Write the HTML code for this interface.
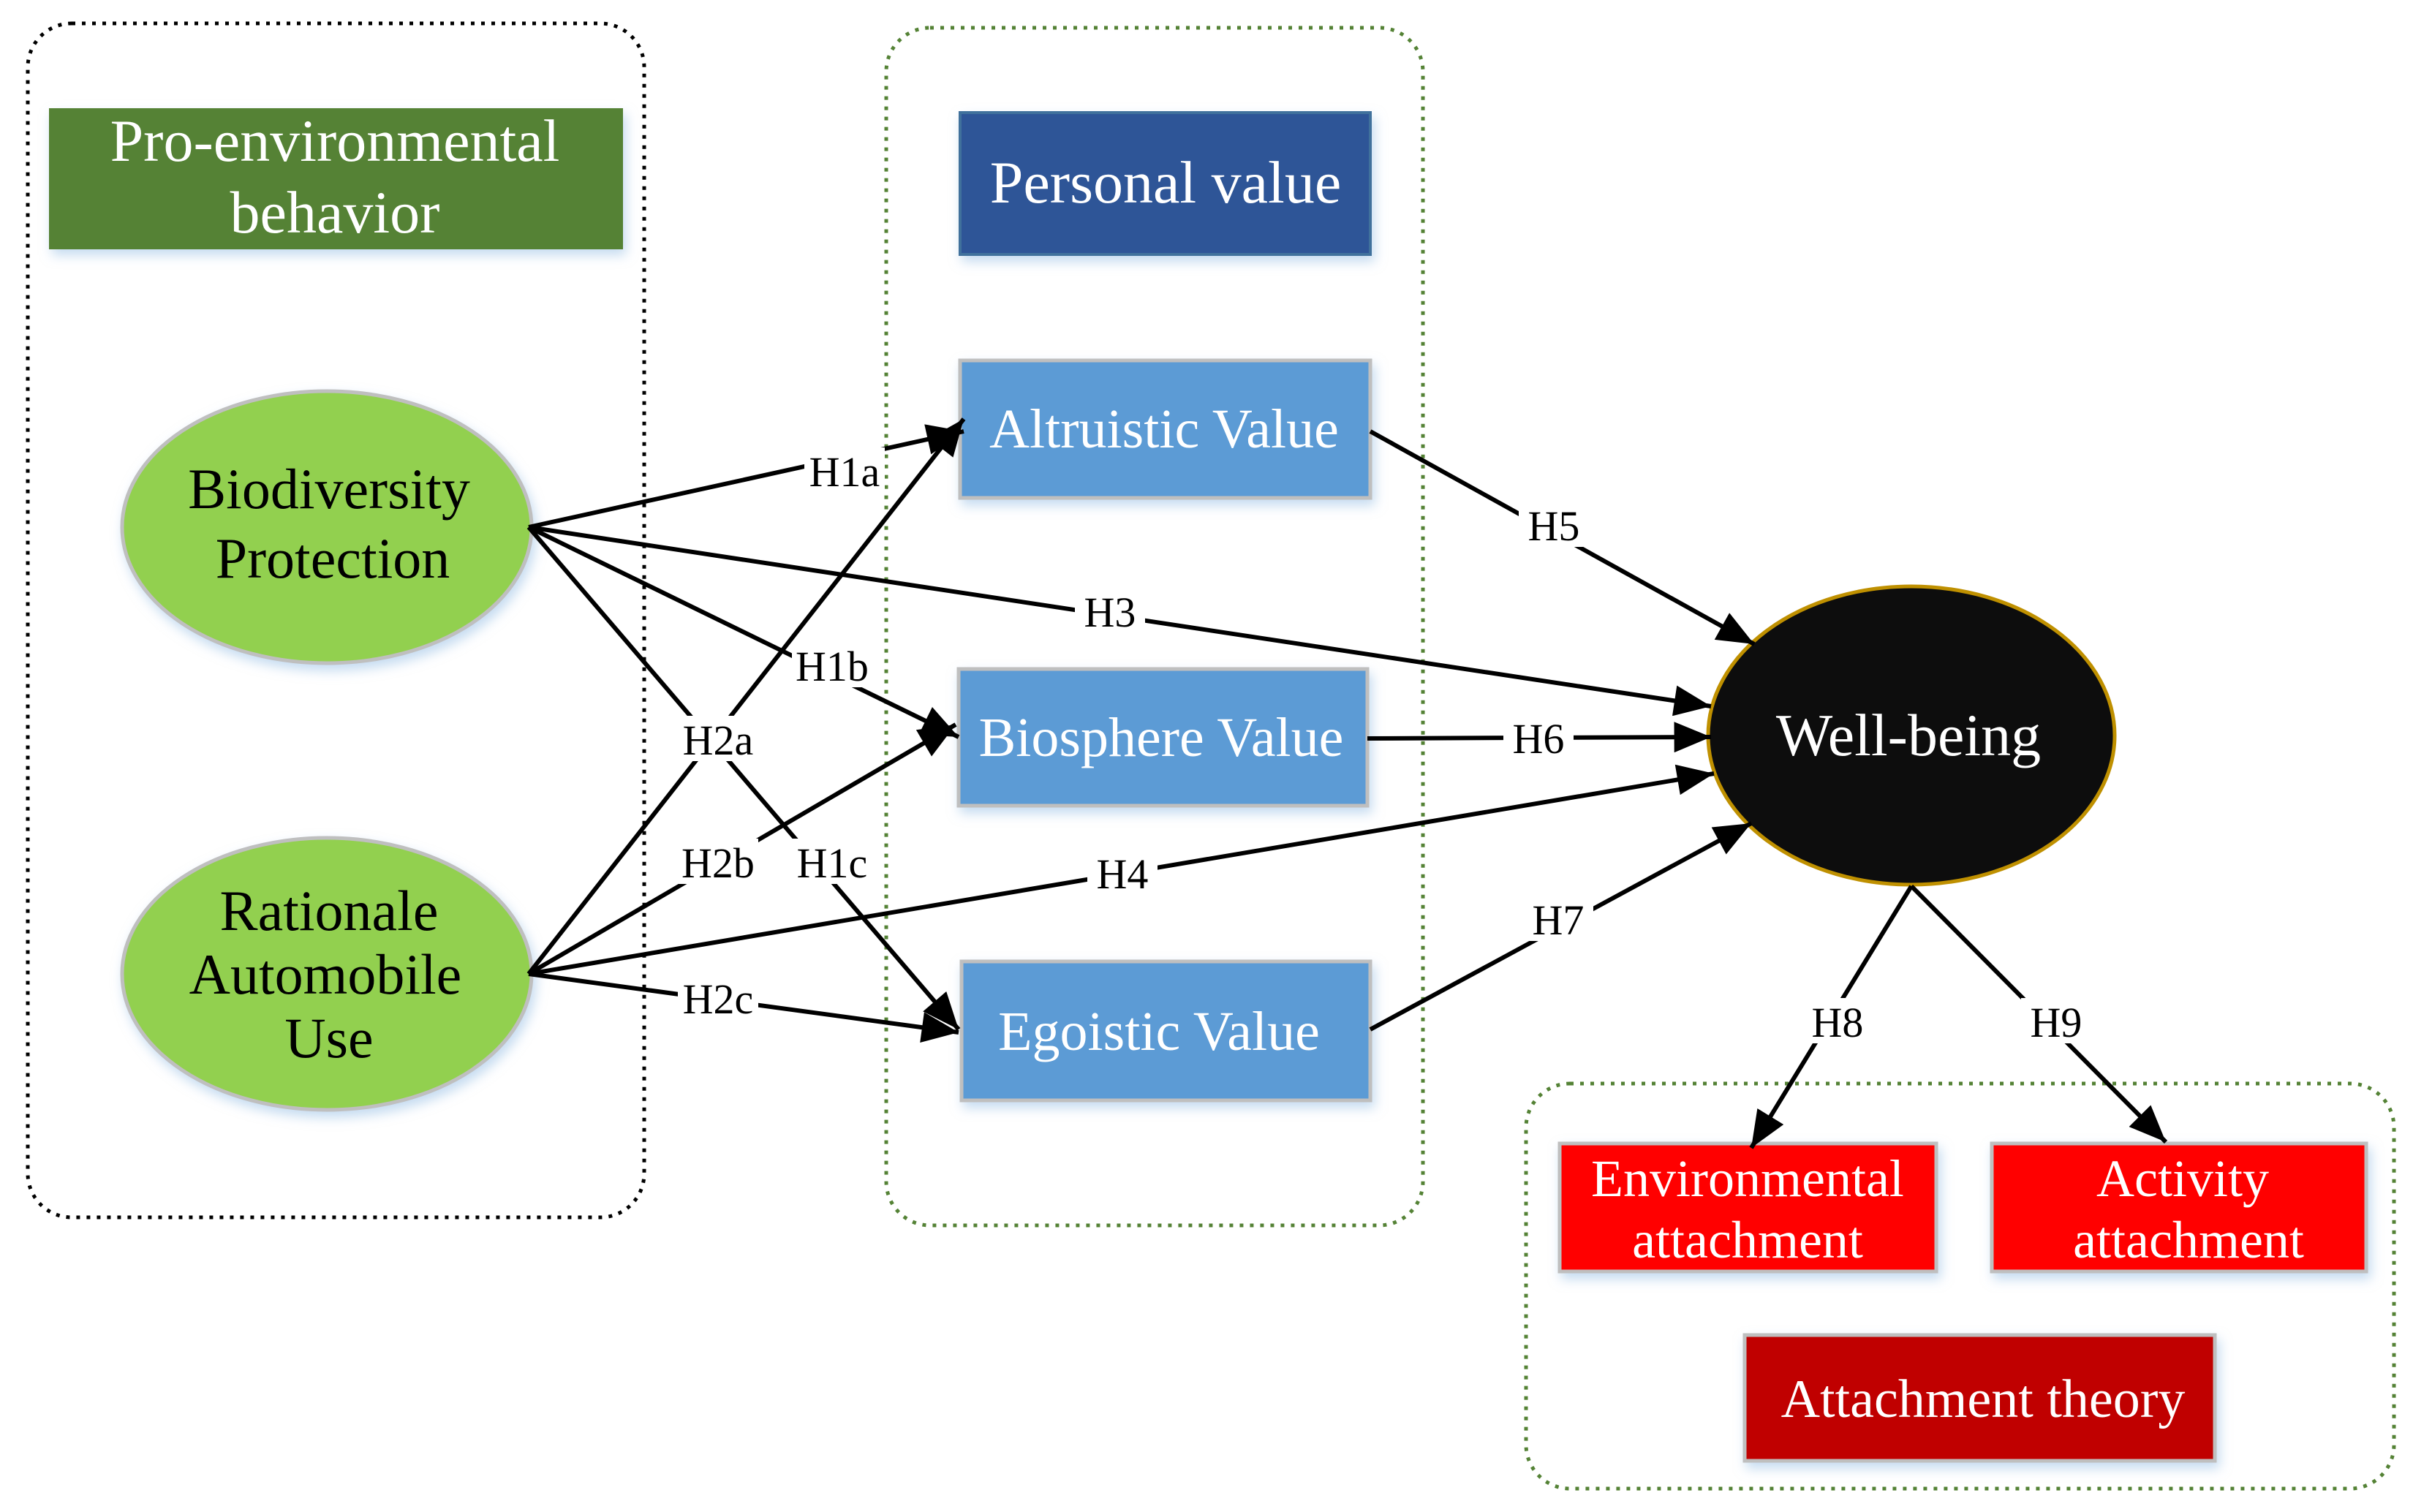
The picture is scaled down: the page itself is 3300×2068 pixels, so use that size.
<!DOCTYPE html>
<html><head><meta charset="utf-8"><style>html,body{margin:0;padding:0;background:#fff}svg{display:block}</style></head>
<body>
<svg width="3300" height="2068" viewBox="0 0 3300 2068" xmlns="http://www.w3.org/2000/svg" font-family="'Liberation Serif', serif">
<defs>
<marker id="ar" viewBox="0 0 12 10" refX="12" refY="5" markerWidth="52" markerHeight="42" markerUnits="userSpaceOnUse" orient="auto"><path d="M0,0 L12,5 L0,10 z" fill="#000"/></marker>
<filter id="sh" x="-10%" y="-10%" width="130%" height="140%"><feDropShadow dx="4" dy="8" stdDeviation="8" flood-color="#9dc3e6" flood-opacity="0.6"/></filter>
</defs>
<rect x="38" y="32" width="843" height="1633" rx="60" fill="none" stroke="#000" stroke-width="5" stroke-dasharray="5 9"/>
<rect x="1212" y="38" width="734" height="1638" rx="60" fill="none" stroke="#548235" stroke-width="5" stroke-dasharray="5 9"/>
<rect x="2087" y="1482" width="1187" height="554" rx="60" fill="none" stroke="#548235" stroke-width="5" stroke-dasharray="5 9"/>
<g filter="url(#sh)">
<rect x="67" y="148" width="785" height="193" fill="#548235"/>
<rect x="1313" y="154" width="561" height="194" fill="#2F5597" stroke="#41719C" stroke-width="4"/>
<rect x="1313" y="493" width="561" height="188" fill="#5B9BD5" stroke="#BFBFBF" stroke-width="5"/>
<rect x="1311" y="915" width="559" height="187" fill="#5B9BD5" stroke="#BFBFBF" stroke-width="5"/>
<rect x="1315" y="1315" width="559" height="190" fill="#5B9BD5" stroke="#BFBFBF" stroke-width="5"/>
<rect x="2133" y="1564" width="515" height="175" fill="#FF0000" stroke="#BFBFBF" stroke-width="5"/>
<rect x="2724" y="1564" width="512" height="175" fill="#FF0000" stroke="#BFBFBF" stroke-width="5"/>
<rect x="2386" y="1826" width="643" height="172" fill="#C00000" stroke="#BFBFBF" stroke-width="5"/>
<ellipse cx="447" cy="721" rx="280" ry="186" fill="#92D050" stroke="#BFBFBF" stroke-width="5"/>
<ellipse cx="447" cy="1332" rx="280" ry="186" fill="#92D050" stroke="#BFBFBF" stroke-width="5"/>
</g>
<ellipse cx="2614" cy="1006" rx="278" ry="204" fill="#0D0D0D" stroke="#BF9000" stroke-width="5"/>
<g stroke="#000" stroke-width="6" fill="none" marker-end="url(#ar)">
<line x1="723" y1="721" x2="1318" y2="590"/>
<line x1="723" y1="721" x2="1311" y2="1008"/>
<line x1="723" y1="721" x2="1311" y2="1408"/>
<line x1="723" y1="721" x2="2340" y2="966"/>
<line x1="723" y1="1332" x2="1318" y2="573"/>
<line x1="723" y1="1332" x2="1307" y2="991"/>
<line x1="723" y1="1332" x2="1311" y2="1412"/>
<line x1="723" y1="1332" x2="2344" y2="1058"/>
<line x1="1874" y1="590" x2="2399" y2="881"/>
<line x1="1870" y1="1010" x2="2340" y2="1008"/>
<line x1="1874" y1="1408" x2="2395" y2="1126"/>
<line x1="2614" y1="1212" x2="2395" y2="1570"/>
<line x1="2614" y1="1212" x2="2962" y2="1562"/>
</g>
<g font-size="58" text-anchor="middle" fill="#000">
<g fill="#fff" stroke="none">
<rect x="1100" y="612" width="110" height="62"/><rect x="1083" y="878" width="110" height="62"/><rect x="1083" y="1147" width="110" height="62"/><rect x="1470" y="804" width="96" height="62"/><rect x="927" y="979" width="110" height="62"/><rect x="927" y="1147" width="110" height="62"/><rect x="927" y="1333" width="110" height="62"/><rect x="1487" y="1162" width="96" height="62"/><rect x="2077" y="686" width="96" height="62"/><rect x="2056" y="977" width="96" height="62"/><rect x="2083" y="1225" width="96" height="62"/><rect x="2465" y="1365" width="96" height="62"/><rect x="2764" y="1365" width="96" height="62"/>
</g>
<text x="1155" y="665">H1a</text><text x="1138" y="931">H1b</text><text x="1138" y="1200">H1c</text><text x="1518" y="857">H3</text>
<text x="982" y="1032">H2a</text><text x="982" y="1200">H2b</text><text x="982" y="1386">H2c</text><text x="1535" y="1215">H4</text>
<text x="2125" y="739">H5</text><text x="2104" y="1030">H6</text><text x="2131" y="1278">H7</text><text x="2513" y="1418">H8</text><text x="2812" y="1418">H9</text>
</g>
<g fill="#fff" text-anchor="middle" font-size="82">
<text x="458" y="220">Pro-environmental</text><text x="458" y="318">behavior</text>
<text x="1594" y="277">Personal value</text>
<text x="1592" y="612" font-size="76">Altruistic Value</text>
<text x="1588" y="1034" font-size="76">Biosphere Value</text>
<text x="1585" y="1436" font-size="76">Egoistic Value</text>
<text x="2610" y="1033">Well-being</text>
<text x="2390" y="1636" font-size="72">Environmental</text><text x="2390" y="1720" font-size="72">attachment</text>
<text x="2985" y="1636" font-size="72">Activity</text><text x="2993" y="1720" font-size="72">attachment</text>
<text x="2712" y="1938" font-size="74">Attachment theory</text>
</g>
<g fill="#000" text-anchor="middle" font-size="78">
<text x="450" y="695">Biodiversity</text><text x="455" y="790">Protection</text>
<text x="450" y="1272">Rationale</text><text x="445" y="1359">Automobile</text><text x="450" y="1446">Use</text>
</g>
</svg>
</body></html>
